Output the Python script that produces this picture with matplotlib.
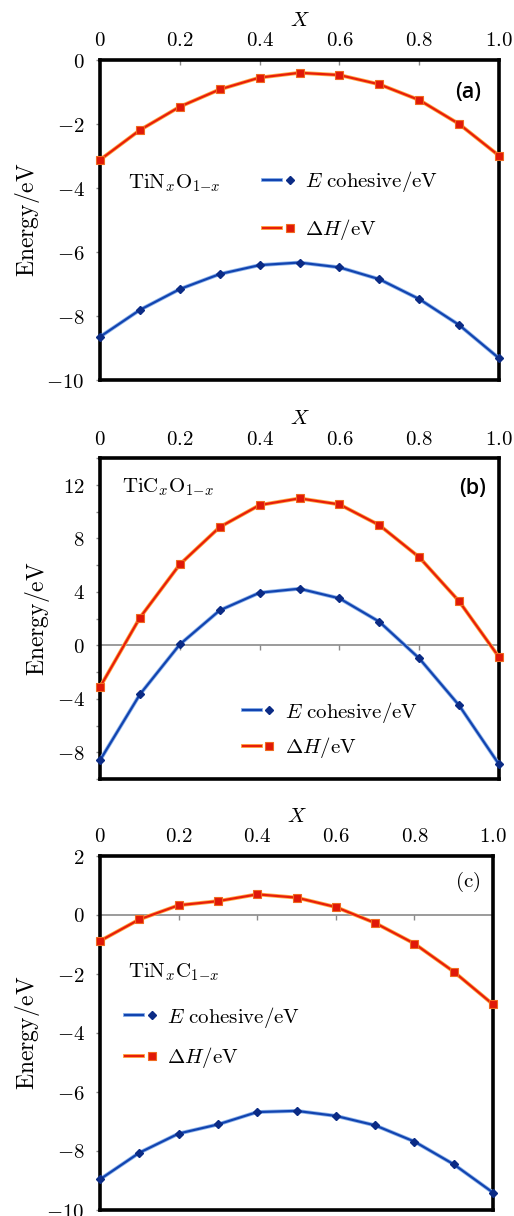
import matplotlib
matplotlib.use('Agg')
import matplotlib.pyplot as plt
import matplotlib.patheffects as pe
from matplotlib.ticker import MultipleLocator, FuncFormatter, FixedLocator, FixedFormatter, NullFormatter
from matplotlib.legend_handler import HandlerTuple

plt.rcParams['mathtext.fontset'] = 'cm'
plt.rcParams['font.family'] = ['DejaVu Serif']

# ---------------- data ----------------
x_vals = [0.0, 0.1, 0.2, 0.3, 0.4, 0.5, 0.6, 0.7, 0.8, 0.9, 1.0]
x_ticks = [0.0, 0.2, 0.4, 0.6, 0.8, 1.0]
x_tick_labels = ['0', '0.2', '0.4', '0.6', '0.8', '1.0']

a_cohesive = [-8.65, -7.81, -7.16, -6.69, -6.41, -6.33, -6.48, -6.85, -7.47, -8.28, -9.32]
a_dH = [-3.12, -2.19, -1.46, -0.92, -0.55, -0.40, -0.47, -0.76, -1.25, -2.00, -2.99]

b_cohesive = [-8.60, -3.67, 0.07, 2.62, 3.94, 4.24, 3.52, 1.77, -0.97, -4.49, -8.90]
b_dH = [-3.12, 2.07, 6.06, 8.85, 10.50, 11.00, 10.55, 9.00, 6.60, 3.30, -0.88]

c_cohesive = [-8.96, -8.06, -7.41, -7.10, -6.68, -6.64, -6.81, -7.13, -7.68, -8.45, -9.41]
c_dH = [-0.88, -0.15, 0.33, 0.47, 0.70, 0.59, 0.27, -0.27, -0.97, -1.92, -3.03]

label_cohesive = r'$E\ \mathrm{cohesive/eV}$'
label_dH = r'$\Delta H/\mathrm{eV}$'

panels = [
    dict(coh=a_cohesive, dH=a_dH, ylim=(-10, 0), major=2, minor=2,
         compound=r'$\mathrm{TiN}_x\mathrm{O}_{1{-}x}$', tag='(a)', tag_sans=True,
         rect=[100/514, 1-380/1216, 399/514, 320/1216],
         comp_xy=(0.07, 0.616), tag_xy=(0.923, 0.897),
         leg_xy=(0.409, 0.545), leg_space=1.1),
    dict(coh=b_cohesive, dH=b_dH, ylim=(-10, 14), major=4, minor=2,
         compound=r'$\mathrm{TiC}_x\mathrm{O}_{1{-}x}$', tag='(b)', tag_sans=True,
         rect=[100/514, 1-779/1216, 399/514, 320.7/1216],
         comp_xy=(0.055, 0.91), tag_xy=(0.933, 0.907),
         leg_xy=(0.358, 0.153), leg_space=0.5),
    dict(coh=c_cohesive, dH=c_dH, ylim=(-10, 2), major=2, minor=2,
         compound=r'$\mathrm{TiN}_x\mathrm{C}_{1{-}x}$', tag='(c)', tag_sans=False,
         rect=[100/514, 1-1210/1216, 393/514, 354/1216],
         comp_xy=(0.071, 0.673), tag_xy=(0.936, 0.927),
         leg_xy=(0.064, 0.487), leg_space=0.75),
]

FS = 15
red = '#e81e0a'
red_halo = '#ffaa44'
blue = '#1244b0'
blue_halo = '#8fb4ea'
navy = '#0b2b85'

fig = plt.figure(figsize=(5.14, 12.16), dpi=100)

for p in panels:
    ax = fig.add_axes(p['rect'])
    ymin, ymax = p['ylim']
    ax.set_xlim(0, 1)
    ax.set_ylim(ymin, ymax)

    lc, = ax.plot(x_vals, p['coh'], color=blue, lw=1.6, zorder=4, clip_on=False,
                  path_effects=[pe.Stroke(linewidth=2.8, foreground=blue_halo), pe.Normal()])
    mc, = ax.plot(x_vals, p['coh'], ls='none', marker='D', ms=3.8,
                  mfc=navy, mec=navy, zorder=4.5, clip_on=False)
    lh, = ax.plot(x_vals, p['dH'], color=red, lw=1.6, zorder=5, clip_on=False,
                  path_effects=[pe.Stroke(linewidth=2.8, foreground=red_halo), pe.Normal()])
    mh, = ax.plot(x_vals, p['dH'], ls='none', marker='s', ms=6.2,
                  mfc='#e01808', mec='#f06a20', mew=0.8, zorder=5.5, clip_on=False)

    # zero line
    if ymin < 0 < ymax:
        ax.axhline(0, color='#8a8a8a', lw=1.2, zorder=1)
    pos = (0 - ymin) / (ymax - ymin)
    sec = ax.secondary_xaxis(pos)
    sec.xaxis.set_major_locator(FixedLocator(x_ticks[1:-1]))
    sec.xaxis.set_major_formatter(NullFormatter())
    sec.tick_params(axis='x', length=3.5, width=1.0, color='#8a8a8a',
                    direction='out' if pos < 0.5 else 'in')
    for sp in sec.spines.values():
        sp.set_visible(False)

    # top x-axis labels
    ax.xaxis.tick_top()
    ax.xaxis.set_label_position('top')
    ax.xaxis.set_major_locator(FixedLocator(x_ticks))
    ax.xaxis.set_major_formatter(FixedFormatter(['$' + t + '$' for t in x_tick_labels]))
    ax.tick_params(axis='x', length=0, pad=7, labelsize=FS)
    ax.set_xlabel(r'$X$', fontsize=FS, labelpad=4)

    # y axis
    ax.yaxis.set_major_locator(MultipleLocator(p['major']))
    ax.yaxis.set_minor_locator(MultipleLocator(p['minor']))
    ax.yaxis.set_major_formatter(FuncFormatter(lambda v, _: '$%d$' % int(round(v))))
    ax.tick_params(axis='y', which='both', direction='out', length=3, width=1.0,
                   color='#8a8a8a', pad=8, labelsize=FS)
    ax.set_ylabel(r'$\mathrm{Energy/eV}$', fontsize=17, labelpad=3)

    for sp in ax.spines.values():
        sp.set_linewidth(2.6)
        sp.set_color('black')
        sp.set_zorder(3)

    ax.text(p['comp_xy'][0], p['comp_xy'][1], p['compound'], transform=ax.transAxes,
            fontsize=FS, ha='left', va='center')
    if p['tag_sans']:
        ax.text(p['tag_xy'][0], p['tag_xy'][1], p['tag'], transform=ax.transAxes,
                fontsize=15.5, ha='center', va='center', family='Open Sans', fontweight='semibold')
    else:
        ax.text(p['tag_xy'][0], p['tag_xy'][1], r'$\mathrm{(c)}$', transform=ax.transAxes,
                fontsize=FS, ha='center', va='center')

    ax.legend([(lc, mc), (lh, mh)], [label_cohesive, label_dH], loc='center left',
              bbox_to_anchor=p['leg_xy'], frameon=False, borderpad=0, borderaxespad=0,
              handlelength=1.7, handletextpad=0.3, labelspacing=p['leg_space'],
              numpoints=1, fontsize=FS, handler_map={tuple: HandlerTuple(ndivide=None)})

fig.savefig('out.png', dpi=100)
